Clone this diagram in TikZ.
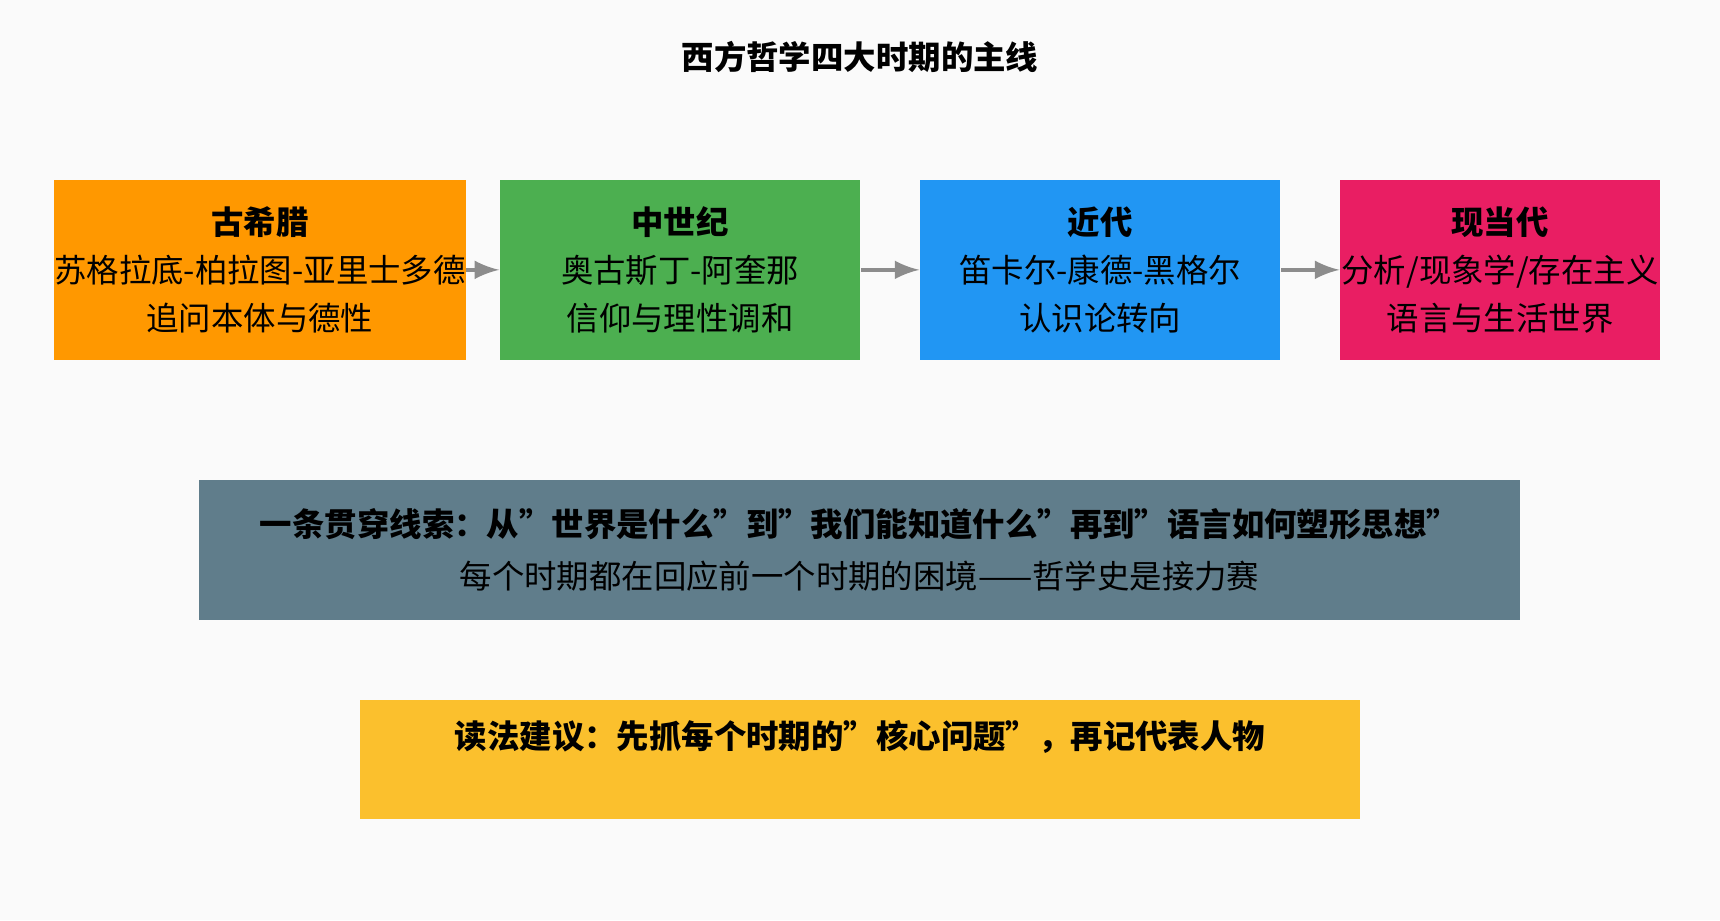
\documentclass[tikz,border=0pt]{standalone}
\usepackage{fontspec}
\setmainfont{Noto Sans CJK SC}
\usetikzlibrary{positioning}

\tikzset{
    period/.style = {rectangle, minimum height = 1.64cm, align = center,
                     font = \fontsize{8.4}{12.5}\selectfont, inner sep = 0},
    band/.style   = {rectangle, align = center,
                     font = \fontsize{8.4}{13.5}\selectfont, inner sep = 0},
    link/.style   = {draw = gray!90, line width = 1.2pt, -latex}
}

\begin{document}
\begin{tikzpicture}[x = 0.01cm, y = -0.01cm]
    \fill [white!98!black] (0,0) rectangle (1568,839);

    \node (title) [font = \fontsize{8.4}{10}\selectfont\bfseries] at (784,52) {西方哲学四大时期的主线};

    \node (greek)  [period, fill = {rgb,255:red,255;green,152;blue,0},  minimum width = 3.28cm] at (237,246)
        {\textbf{古希腊}\\苏格拉底-柏拉图-亚里士多德\\追问本体与德性};
    \node (medieval) [period, fill = {rgb,255:red,76;green,175;blue,80}, minimum width = 3.28cm] at (620,246)
        {\textbf{中世纪}\\奥古斯丁-阿奎那\\信仰与理性调和};
    \node (modern) [period, fill = {rgb,255:red,33;green,150;blue,243}, minimum width = 3.28cm] at (1003,246)
        {\textbf{近代}\\笛卡尔-康德-黑格尔\\认识论转向};
    \node (contemp) [period, fill = {rgb,255:red,233;green,30;blue,99}, minimum width = 2.91cm] at (1367.5,246)
        {\textbf{现当代}\\分析/现象学/存在主义\\语言与生活世界};

    \draw [link] (greek) -- (medieval);
    \draw [link] (medieval) -- (modern);
    \draw [link] (modern) -- (contemp);

    \node (thread) [band, fill = {rgb,255:red,96;green,125;blue,139}, minimum width = 12.03cm, minimum height = 1.27cm] at (783.5,501.5)
        {\textbf{一条贯穿线索：从"世界是什么"到"我们能知道什么"再到"语言如何塑形思想"}\\每个时期都在回应前一个时期的困境——哲学史是接力赛};

    \node (advice) [band, fill = {rgb,255:red,251;green,192;blue,45}, minimum width = 9.12cm, minimum height = 1.09cm, text depth = 0.45cm] at (784,692.5)
        {\textbf{读法建议：先抓每个时期的"核心问题"，再记代表人物}};
\end{tikzpicture}
\end{document}
